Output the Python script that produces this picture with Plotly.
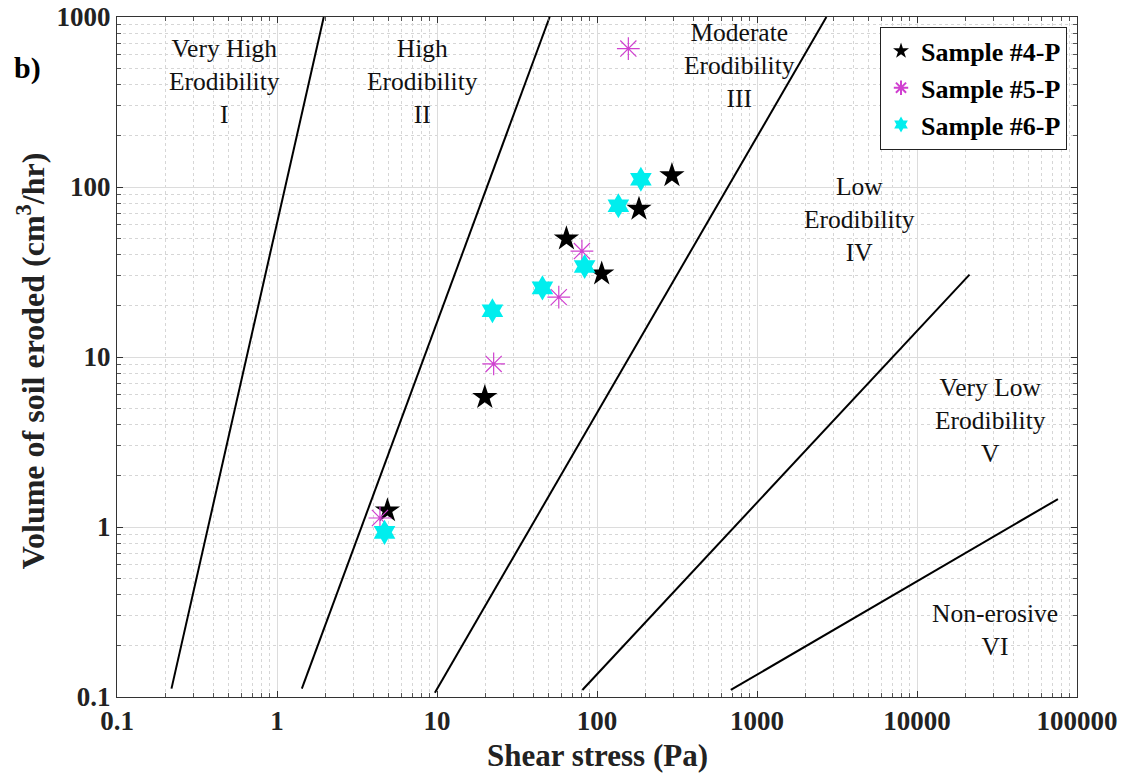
import plotly.graph_objects as go
import numpy as np

# ---- data ----
# Erodibility category boundary lines (two end points each)
line_x = [[0.219, 1.96], [1.43, 50.6], [9.7, 2715], [81, 21300], [686, 76000]]
line_y = [[0.112, 1000], [0.112, 1000], [0.106, 1000], [0.11, 30.5], [0.11, 1.46]]

s4_name = "Sample #4-P"
s4_x = [4.9, 19.9, 64.4, 107, 183, 294]
s4_y = [1.25, 5.8, 49.7, 30.9, 74.3, 117]

s5_name = "Sample #5-P"
s5_x = [4.4, 22.6, 57.7, 80.5, 157]
s5_y = [1.13, 9.1, 22.5, 42, 652]

s6_name = "Sample #6-P"
s6_x = [4.7, 22.2, 45.6, 83.7, 136, 188]
s6_y = [0.93, 18.7, 25.5, 34.1, 77.6, 111]

zone_labels = ["Very High<br>Erodibility<br>I", "High<br>Erodibility<br>II",
               "Moderate<br>Erodibility<br>III", "Low<br>Erodibility<br>IV",
               "Very Low<br>Erodibility<br>V", "Non-erosive<br>VI"]
zone_x = [0.47, 8.15, 780, 4390, 28800, 30600]
zone_y = [417, 417, 518, 64.3, 4.22, 0.249]

x_ticks = [0.1, 1, 10, 100, 1000, 10000, 100000]
x_ticktext = ["0.1", "1", "10", "100", "1000", "10000", "100000"]
y_ticks = [0.1, 1, 10, 100, 1000]
y_ticktext = ["0.1", "1", "10", "100", "1000"]

FONT = "Liberation Serif, Times New Roman, serif"

fig = go.Figure()

for lx, ly in zip(line_x, line_y):
    fig.add_trace(go.Scatter(x=lx, y=ly, mode="lines",
                             line=dict(color="black", width=2),
                             showlegend=False, hoverinfo="skip"))

fig.add_trace(go.Scatter(x=s4_x, y=s4_y, mode="markers", name=s4_name,
                         marker=dict(symbol="star", size=19, color="black",
                                     line=dict(width=0))))
fig.add_trace(go.Scatter(x=s5_x, y=s5_y, mode="markers", name=s5_name,
                         marker=dict(symbol="asterisk-open", size=19,
                                     color="#d040d0",
                                     line=dict(color="#d040d0", width=1.2))))
fig.add_trace(go.Scatter(x=s6_x, y=s6_y, mode="markers", name=s6_name,
                         marker=dict(symbol="hexagram", size=19, color="#00eeee",
                                     line=dict(width=0))))

for t, zx, zy in zip(zone_labels, zone_x, zone_y):
    fig.add_annotation(x=np.log10(zx), y=np.log10(zy), xref="x", yref="y",
                       text=t, showarrow=False, xanchor="center",
                       yanchor="middle", align="center",
                       font=dict(family=FONT, size=25.5, color="#111"))

# panel label
fig.add_annotation(x=-0.109, y=0.925, xref="paper", yref="paper", text="b)",
                   showarrow=False, xanchor="left", yanchor="middle",
                   font=dict(family=FONT, size=30, color="black", weight="bold"))
# axis titles
fig.add_annotation(x=-0.0895, y=0.494, xref="paper", yref="paper",
                   text="Volume of soil eroded (cm<sup>3</sup>/hr)",
                   textangle=-90, showarrow=False, xanchor="center",
                   yanchor="middle",
                   font=dict(family=FONT, size=32, color="#222", weight="bold"))
fig.add_annotation(x=0.5, y=-0.0853, xref="paper", yref="paper",
                   text="Shear stress (Pa)", showarrow=False,
                   xanchor="center", yanchor="middle",
                   font=dict(family=FONT, size=31, color="#222", weight="bold"))

axis_common = dict(
    type="log", showline=True, linecolor="#333", linewidth=1, mirror="ticks",
    ticks="inside", ticklen=6, tickcolor="#333", automargin=False,
    ticklabeloverflow="allow",
    showgrid=True, gridcolor="#dcdcdc", gridwidth=1,
    tickfont=dict(family=FONT, size=27, color="#222", weight="bold"),
    minor=dict(ticks="inside", ticklen=4, tickcolor="#555", showgrid=True,
               gridcolor="#d6d6d6", griddash="dot", gridwidth=1, dtick="D1"),
    zeroline=False,
)

fig.update_xaxes(range=[-1, 5], tickmode="array", tickvals=x_ticks,
                 ticktext=x_ticktext, **axis_common)
fig.update_yaxes(range=[-1, 3], tickmode="array", tickvals=y_ticks,
                 ticktext=y_ticktext, **axis_common)

fig.update_layout(
    width=1126, height=775,
    margin=dict(l=117, r=49, t=17, b=78),
    paper_bgcolor="white", plot_bgcolor="white",
    legend=dict(x=0.9896, y=0.986, xanchor="right", yanchor="top",
                bgcolor="white", bordercolor="#222", borderwidth=1,
                font=dict(family=FONT, size=26, color="black", weight="bold"),
                itemsizing="constant", tracegroupgap=0),
    showlegend=True,
)

fig.write_html("out.html",
               config={"displayModeBar": False},
               post_script="document.body.style.margin='0px';"
                           "document.body.style.overflow='hidden';")
